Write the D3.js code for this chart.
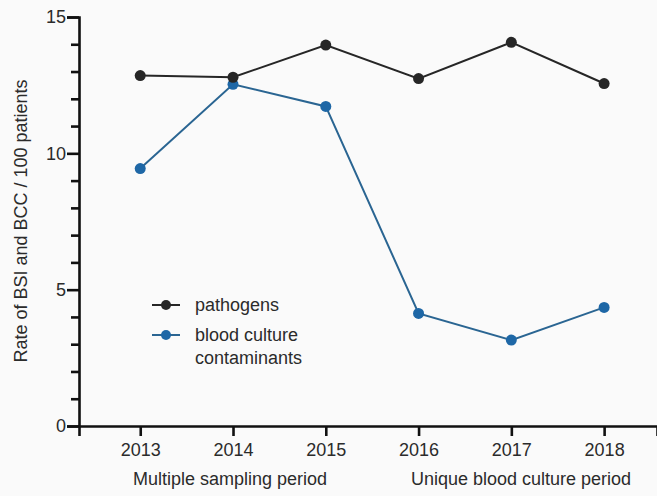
<!DOCTYPE html>
<html><head><meta charset="utf-8">
<script src="https://cdn.jsdelivr.net/npm/d3@7"></script>
<style>body{margin:0;background:#fafafa;}svg{display:block;font-family:"Liberation Sans",Arial,sans-serif;}</style>
</head><body>
<svg id="c" width="657" height="496"></svg>
<script>
const years = [2013, 2014, 2015, 2016, 2017, 2018];
const pathogens = [12.85, 12.79, 13.97, 12.74, 14.07, 12.56];
const contaminants = [9.44, 12.53, 11.72, 4.13, 3.15, 4.35];
const seriesNames = ["pathogens", "blood culture contaminants"];
const yTicks = [0, 5, 10, 15];
const periodLabels = ["Multiple sampling period", "Unique blood culture period"];

const FS = 18;
const svg = d3.select("#c");
svg.append("rect").attr("width",657).attr("height",496).attr("fill","#fafafa");
const x = d3.scaleLinear().domain([2012.34, 2018.57]).range([79, 657]);
const y = d3.scaleLinear().domain([0, 15]).range([426, 17]);
const textCol = "#2b2b2b";

// y axis
const yAxis = svg.append("g").attr("transform","translate(79,0)")
  .call(d3.axisLeft(y).tickValues(yTicks).tickSize(12).tickPadding(1).tickFormat(d3.format("d")));
svg.append("g").attr("transform","translate(79,0)")
  .call(d3.axisLeft(y).tickValues(d3.range(0,16).filter(v=>v%5)).tickSize(8).tickFormat(""))
  .call(g=>g.select(".domain").remove());
// x axis
svg.append("g").attr("transform","translate(0,426)")
  .call(d3.axisBottom(x).tickValues(years).tickSize(10).tickFormat(d3.format("d")).tickPadding(7));
svg.selectAll("g").attr("font-size",FS).attr("font-family","Liberation Sans, Arial, sans-serif");
svg.selectAll(".domain").attr("stroke","#111").attr("stroke-width",2.6);
svg.selectAll(".tick line").attr("stroke","#111").attr("stroke-width",2.6);
svg.selectAll(".tick text").attr("fill",textCol);

// axis title
svg.append("text").attr("transform","translate(27,221) rotate(-90)")
  .attr("text-anchor","middle").attr("font-size",FS).attr("fill",textCol)
  .text("Rate of BSI and BCC / 100 patients");

// period labels
svg.append("text").attr("x",230).attr("y",485).attr("text-anchor","middle").attr("font-size",FS).attr("fill",textCol).text(periodLabels[0]);
svg.append("text").attr("x",521).attr("y",485).attr("text-anchor","middle").attr("font-size",FS).attr("fill",textCol).text(periodLabels[1]);

const line = d3.line().x((d,i)=>x(years[i])).y(d=>y(d));
const series = [
  {vals: contaminants, line:"#2a6592", fill:"#1e67a6"},
  {vals: pathogens, line:"#262626", fill:"#262626"}
];
series.forEach(s=>{
  svg.append("path").datum(s.vals).attr("d",line).attr("fill","none").attr("stroke",s.line).attr("stroke-width",2);
  svg.selectAll(null).data(s.vals).enter().append("circle")
    .attr("cx",(d,i)=>x(years[i])).attr("cy",d=>y(d)).attr("r",5.5).attr("fill",s.fill);
});

// legend
const leg = [{y:305, line:"#262626", fill:"#262626", lines:["pathogens"]},
             {y:335, line:"#2a6592", fill:"#1e67a6", lines:["blood culture","contaminants"]}];
leg.forEach((l,k)=>{
  svg.append("line").attr("x1",152).attr("x2",180).attr("y1",l.y).attr("y2",l.y).attr("stroke",l.line).attr("stroke-width",2);
  svg.append("circle").attr("cx",166).attr("cy",l.y).attr("r",5).attr("fill",l.fill);
  const t = svg.append("text").attr("x",195).attr("y",l.y+6).attr("font-size",FS).attr("fill",textCol);
  l.lines.forEach((s,i)=>t.append("tspan").attr("x",195).attr("dy",i?23:0).text(s));
});
</script>
</body></html>
